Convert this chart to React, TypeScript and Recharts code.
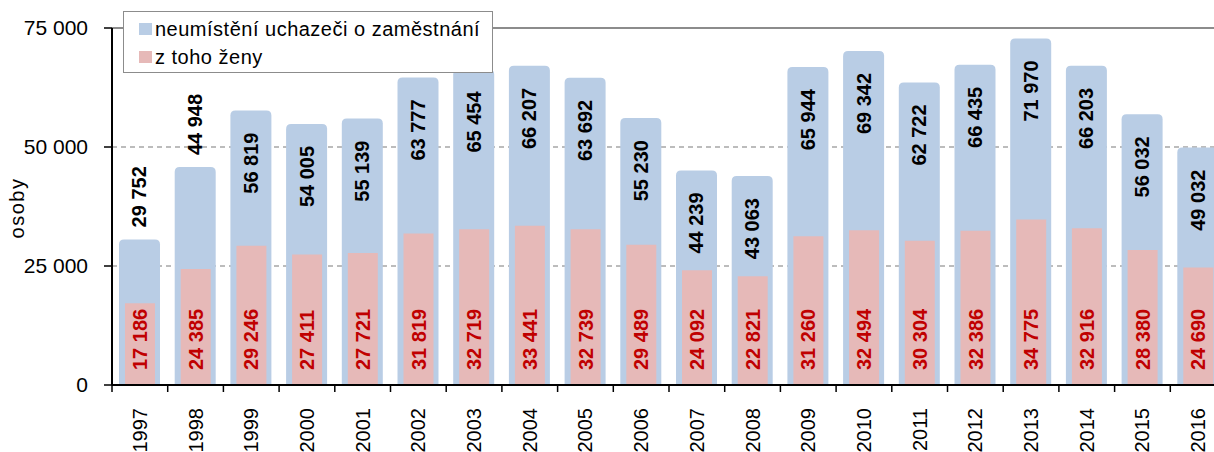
import React from "react";
import {
  BarChart,
  Bar,
  XAxis,
  YAxis,
  CartesianGrid,
  ReferenceLine,
  Legend,
  LabelList,
} from "recharts";

const years = [
  "1997", "1998", "1999", "2000", "2001", "2002", "2003", "2004", "2005", "2006",
  "2007", "2008", "2009", "2010", "2011", "2012", "2013", "2014", "2015", "2016",
];
const uchazeci = [
  29752, 44948, 56819, 54005, 55139, 63777, 65454, 66207, 63692, 55230,
  44239, 43063, 65944, 69342, 62722, 66435, 71970, 66203, 56032, 49032,
];
const zeny = [
  17186, 24385, 29246, 27411, 27721, 31819, 32719, 33441, 32739, 29489,
  24092, 22821, 31260, 32494, 30304, 32386, 34775, 32916, 28380, 24690,
];
const yTicks = [0, 25000, 50000, 75000];

const data = years.map((rok, i) => ({ rok, uchazeci: uchazeci[i], zeny: zeny[i] }));

const FONT = '"Liberation Sans", Arial, sans-serif';
const BLUE = "#B9CDE5";
const PINK = "#E6B9B8";
const CHART_W = 1240;
const PLOT_LEFT = 112;
const PLOT_RIGHT = 14;
const BAND = (CHART_W - PLOT_LEFT - PLOT_RIGHT) / years.length;
// labels of these years sit above the bar, the rest inside near the top
const labelAbove = new Set(["1997", "1998"]);

const fmt = (v: number) => String(v).replace(/\B(?=(\d{3})+(?!\d))/g, " ");

// blue bars look slightly taller in the original (outline), rounded top
const BlueShape = (p: any) => {
  const { x, width } = p;
  const ext = 4;
  const y = p.y - ext;
  const h = p.height + ext;
  const r = 5;
  const d = `M${x},${y + h} L${x},${y + r} Q${x},${y} ${x + r},${y} L${x + width - r},${y} Q${x + width},${y} ${x + width},${y + r} L${x + width},${y + h} Z`;
  return <path d={d} fill={BLUE} />;
};

const TotalLabel = (p: any) => {
  const { x, y, width, value, index } = p;
  const cx = x + width / 2 + 7;
  const top = y - 4;
  const above = labelAbove.has(years[index]);
  const ty = above ? top - 12 : top + 22;
  return (
    <text
      x={cx}
      y={ty}
      transform={`rotate(-90 ${cx} ${ty})`}
      textAnchor={above ? "start" : "end"}
      fontFamily={FONT}
      fontSize={20}
      fontWeight="bold"
      fill="#000"
    >
      {fmt(value)}
    </text>
  );
};

const WomenLabel = (p: any) => {
  const { x, width, value } = p;
  const cx = x + width / 2 + 7;
  const ty = 370;
  return (
    <text
      x={cx}
      y={ty}
      transform={`rotate(-90 ${cx} ${ty})`}
      textAnchor="start"
      fontFamily={FONT}
      fontSize={20}
      fontWeight="bold"
      fill="#C00000"
    >
      {fmt(value)}
    </text>
  );
};

const YearTick = (p: any) => {
  const { x, y, payload } = p;
  const bx = x - BAND / 2;
  const tx = x + 7;
  return (
    <g>
      <line x1={bx} y1={y - 23} x2={bx} y2={y - 16} stroke="#000" strokeWidth={1.5} />
      <text
        x={tx}
        y={y}
        transform={`rotate(-90 ${tx} ${y})`}
        textAnchor="end"
        fontFamily={FONT}
        fontSize={20}
        fill="#000"
      >
        {payload.value}
      </text>
    </g>
  );
};

const legendItems = [
  { name: "neumístění uchazeči o zaměstnání", color: BLUE },
  { name: "z toho ženy", color: PINK },
];

const LegendBox = () => (
  <div
    style={{
      width: 370,
      height: 62,
      boxSizing: "border-box",
      background: "#fff",
      border: "1.5px solid #8c8c8c",
      padding: "3px 0 0 15px",
      fontFamily: FONT,
      fontSize: 20,
      letterSpacing: 0.5,
      color: "#000",
    }}
  >
    {legendItems.map((it) => (
      <div key={it.name} style={{ display: "flex", alignItems: "center", height: 28 }}>
        <span style={{ display: "inline-block", width: 13, height: 12, background: it.color, marginRight: 3 }} />
        <span>{it.name}</span>
      </div>
    ))}
  </div>
);

export default function App() {
  return (
    <div
      style={{
        position: "absolute",
        left: 0,
        top: 0,
        width: 1214,
        height: 452,
        overflow: "hidden",
        background: "#fff",
      }}
    >
      <BarChart
        width={CHART_W}
        height={452}
        data={data}
        margin={{ top: 28, right: PLOT_RIGHT, bottom: 7, left: 0 }}
      >
        <CartesianGrid vertical={false} stroke="#a6a6a6" strokeDasharray="5 4" strokeWidth={1.5} />
        <ReferenceLine y={75000} stroke="#8c8c8c" strokeWidth={2} />
        <XAxis
          dataKey="rok"
          height={60}
          tickLine={false}
          tickSize={7}
          tickMargin={16}
          axisLine={{ stroke: "#000", strokeWidth: 2 }}
          tick={<YearTick />}
          interval={0}
        />
        <XAxis dataKey="rok" xAxisId="w" hide />
        <YAxis
          width={PLOT_LEFT}
          domain={[0, 75000]}
          ticks={yTicks}
          interval={0}
          tickFormatter={fmt}
          tickSize={8}
          tickMargin={16}
          axisLine={{ stroke: "#000", strokeWidth: 2 }}
          tickLine={{ stroke: "#000", strokeWidth: 1.5 }}
          tick={{ fill: "#000", fontSize: 21, fontFamily: FONT }}
          label={{
            content: () => (
              <text
                x={24}
                y={208}
                transform="rotate(-90 24 208)"
                textAnchor="middle"
                fontFamily={FONT}
                fontSize={20}
                letterSpacing={1.5}
                fill="#000"
              >
                osoby
              </text>
            ),
          }}
        />
        <Legend
          layout="vertical"
          align="center"
          verticalAlign="middle"
          content={<LegendBox />}
          wrapperStyle={{ top: 11, left: 123, width: 370, height: 62 }}
        />
        <Bar dataKey="uchazeci" name="neumístění uchazeči o zaměstnání" barSize={41} shape={<BlueShape />} isAnimationActive={false}>
          <LabelList dataKey="uchazeci" content={<TotalLabel />} />
        </Bar>
        <Bar dataKey="zeny" name="z toho ženy" xAxisId="w" barSize={30} fill={PINK} isAnimationActive={false}>
          <LabelList dataKey="zeny" content={<WomenLabel />} />
        </Bar>
      </BarChart>
    </div>
  );
}
